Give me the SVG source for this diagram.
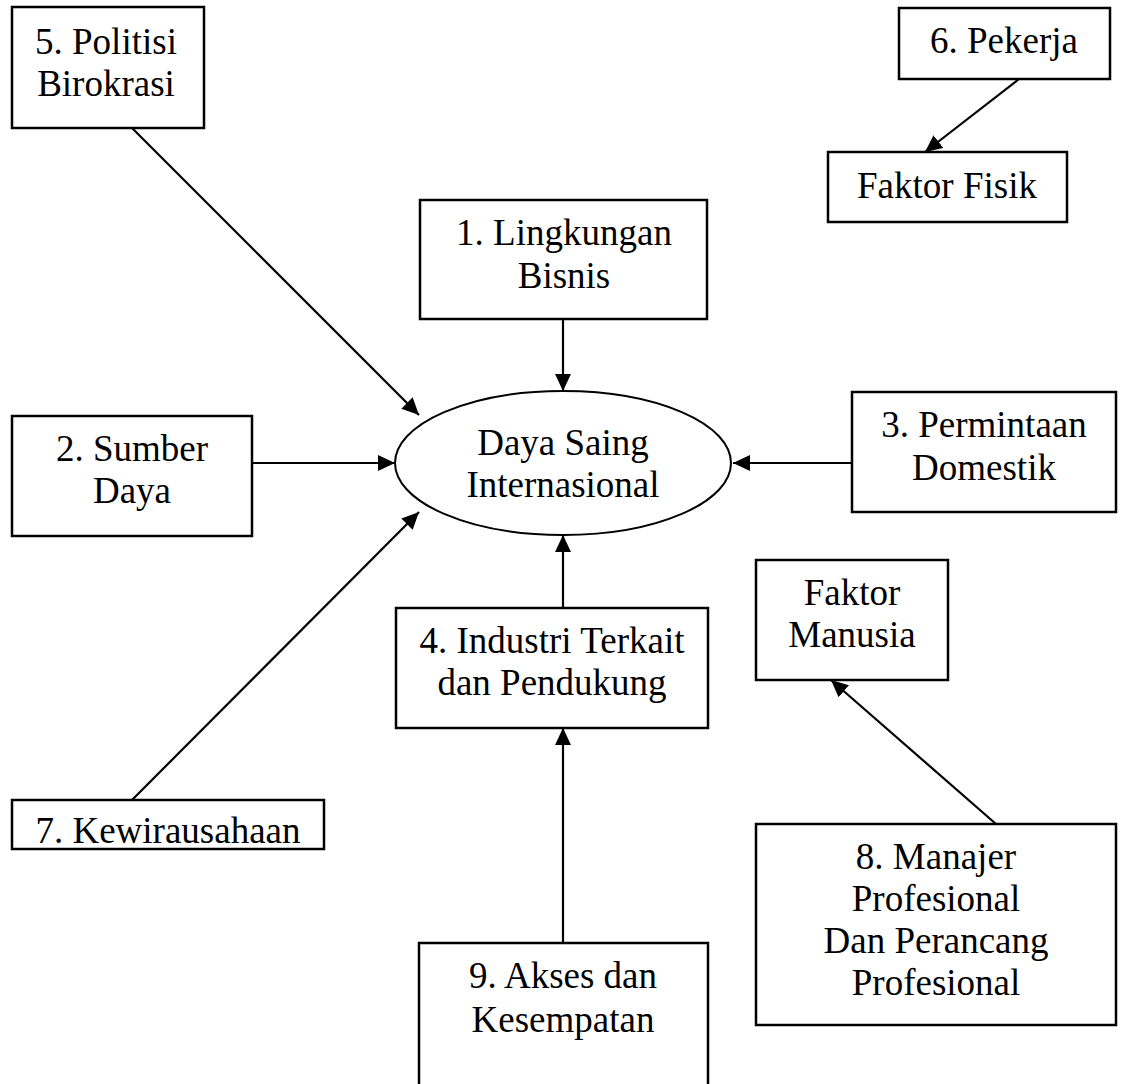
<svg xmlns="http://www.w3.org/2000/svg" width="1125" height="1084" viewBox="0 0 1125 1084">
<defs>
<marker id="ah" markerUnits="userSpaceOnUse" markerWidth="18" markerHeight="16" refX="17" refY="8" orient="auto">
<path d="M0,0 L17,8 L0,16 Z" fill="#000"/>
</marker>
<style>
.box{fill:#fff;stroke:#000;stroke-width:2.5}
.ell{fill:#fff;stroke:#000;stroke-width:2}
.t{font-size:37px;fill:#000;text-anchor:middle}
.c{stroke:#000;stroke-width:2.2;fill:none;marker-end:url(#ah)}
</style>
</defs>
<rect width="1125" height="1084" fill="#fff"/>
<g id="connectors">
<line class="c" x1="132" y1="128" x2="419" y2="415"/>
<line class="c" x1="563" y1="320" x2="563" y2="391"/>
<line class="c" x1="252" y1="463" x2="395" y2="463"/>
<line class="c" x1="852" y1="463" x2="733" y2="463"/>
<line class="c" x1="563" y1="608" x2="563" y2="535"/>
<line class="c" x1="132" y1="800" x2="419" y2="512"/>
<line class="c" x1="563" y1="943" x2="563" y2="728"/>
<line class="c" x1="1019" y1="79" x2="925" y2="152"/>
<line class="c" x1="996" y1="824" x2="831" y2="680"/>
</g>
<g id="nodes" font-family="'Liberation Serif', serif">
<g id="center">
<ellipse class="ell" cx="563" cy="463" rx="168" ry="72"/>
<text class="t" x="563" y="455">Daya Saing</text>
<text class="t" x="563" y="497">Internasional</text>
</g>
<g id="n5">
<rect class="box" x="12" y="7" width="192" height="121"/>
<text class="t" x="106" y="54">5. Politisi</text>
<text class="t" x="106" y="96">Birokrasi</text>
</g>
<g id="n6">
<rect class="box" x="899" y="8" width="211" height="71"/>
<text class="t" x="1004" y="53">6. Pekerja</text>
</g>
<g id="fisik">
<rect class="box" x="828" y="152" width="239" height="70"/>
<text class="t" x="947" y="198">Faktor Fisik</text>
</g>
<g id="n1">
<rect class="box" x="420" y="200" width="287" height="119"/>
<text class="t" x="564" y="245">1. Lingkungan</text>
<text class="t" x="564" y="288">Bisnis</text>
</g>
<g id="n2">
<rect class="box" x="12" y="416" width="240" height="120"/>
<text class="t" x="132" y="461">2. Sumber</text>
<text class="t" x="132" y="503">Daya</text>
</g>
<g id="n3">
<rect class="box" x="852" y="392" width="264" height="120"/>
<text class="t" x="984" y="437">3. Permintaan</text>
<text class="t" x="984" y="480">Domestik</text>
</g>
<g id="n4">
<rect class="box" x="396" y="608" width="312" height="120"/>
<text class="t" x="552" y="653">4. Industri Terkait</text>
<text class="t" x="552" y="695">dan Pendukung</text>
</g>
<g id="manusia">
<rect class="box" x="756" y="560" width="192" height="120"/>
<text class="t" x="852" y="605">Faktor</text>
<text class="t" x="852" y="647">Manusia</text>
</g>
<g id="n7">
<rect class="box" x="12" y="800" width="312" height="49"/>
<text class="t" x="168" y="843">7. Kewirausahaan</text>
</g>
<g id="n8">
<rect class="box" x="756" y="824" width="360" height="201"/>
<text class="t" x="936" y="869">8. Manajer</text>
<text class="t" x="936" y="911">Profesional</text>
<text class="t" x="936" y="953">Dan Perancang</text>
<text class="t" x="936" y="995">Profesional</text>
</g>
<g id="n9">
<rect class="box" x="419" y="943" width="289" height="150"/>
<text class="t" x="563" y="988">9. Akses dan</text>
<text class="t" x="563" y="1032">Kesempatan</text>
</g>
</g>
</svg>
